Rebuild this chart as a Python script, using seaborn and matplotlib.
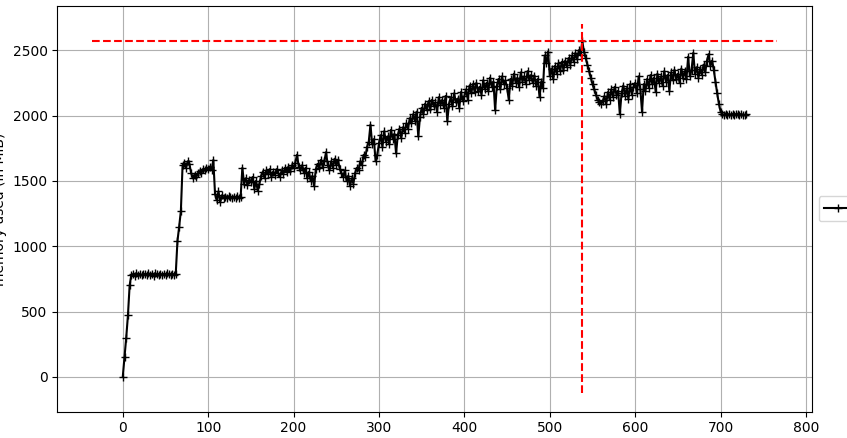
import numpy as np
import pandas as pd
import matplotlib
matplotlib.use("Agg")
import matplotlib.pyplot as plt
import seaborn as sns

# sampling interval of the memory profiler (seconds)
interval = 2.0

# memory usage in MiB, split by 100 s blocks
mem_000 = [3, 150, 300, 470, 700, 782,
           785, 776, 792, 780, 788, 777, 791, 784, 779, 793, 781, 789, 776,
           792, 785, 778, 791, 780, 788, 777, 793, 785, 780, 790, 783,
           790, 1040, 1150, 1270, 1620, 1640, 1600, 1650, 1630, 1560, 1520,
           1545, 1530, 1560, 1575, 1560, 1590, 1580, 1600]
mem_100 = [1590, 1610, 1585, 1660, 1400, 1350, 1420, 1340, 1390, 1370,
           1375, 1368, 1382, 1375, 1366, 1380, 1370, 1384, 1368,
           1380, 1600, 1480, 1520, 1470, 1510, 1490, 1530, 1440, 1500, 1425,
           1480, 1540, 1570, 1520, 1580, 1550, 1590, 1530, 1570, 1545,
           1590, 1560, 1530, 1580, 1555, 1600, 1565, 1610, 1575, 1620]
mem_200 = [1600, 1640, 1700, 1610, 1580, 1620, 1560, 1600, 1520, 1570,
           1500, 1540, 1460, 1590, 1630, 1600, 1660, 1610, 1650, 1720,
           1620, 1580, 1650, 1600, 1670, 1620, 1660, 1590, 1560, 1530,
           1580, 1500, 1540, 1460, 1520, 1480, 1560, 1600, 1580, 1650,
           1620, 1700, 1680, 1760, 1800, 1930, 1780, 1820, 1650, 1700]
mem_300 = [1790, 1850, 1760, 1880, 1800, 1840, 1780, 1890, 1820, 1860,
           1710, 1850, 1900, 1830, 1910, 1870, 1940, 1900, 1980, 1940,
           2010, 1960, 2030, 1840, 1990, 2060, 2010, 2090, 2040, 2110,
           2050, 2120, 2070, 2100, 2030, 2140, 2080, 2120, 2060, 2150,
           1960, 2090, 2140, 2070, 2170, 2100, 2130, 2060, 2180, 2110]
mem_400 = [2150, 2200, 2120, 2230, 2170, 2240, 2180, 2250, 2190, 2220,
           2160, 2270, 2200, 2250, 2190, 2290, 2220, 2260, 2040, 2230,
           2280, 2200, 2300, 2240, 2270, 2210, 2120, 2280, 2230, 2320,
           2250, 2290, 2220, 2330, 2260, 2300, 2240, 2340, 2270, 2310,
           2250, 2300, 2230, 2280, 2140, 2260, 2210, 2460, 2400, 2490]
mem_500 = [2300, 2360, 2280, 2380, 2320, 2400, 2340, 2410, 2350, 2420,
           2370, 2440, 2390, 2460, 2410, 2480, 2430, 2500, 2460, 2569,
           2490, 2440, 2390, 2340, 2290, 2240, 2200, 2160, 2120, 2100,
           2090, 2110, 2150, 2090, 2180, 2120, 2200, 2140, 2220, 2160,
           2190, 2010, 2170, 2230, 2150, 2210, 2130, 2240, 2160, 2220]
mem_600 = [2250, 2170, 2300, 2200, 2030, 2240, 2190, 2280, 2210, 2310,
           2240, 2290, 2180, 2320, 2250, 2300, 2230, 2340, 2260, 2310,
           2190, 2330, 2270, 2350, 2280, 2320, 2250, 2360, 2290, 2340,
           2280, 2450, 2300, 2350, 2480, 2320, 2370, 2290, 2360, 2310,
           2390, 2330, 2420, 2470, 2380, 2420, 2350, 2260, 2170, 2090]
mem_700 = [2030, 2010, 2004, 2014, 2005, 2012, 2006, 2014, 2004, 2012,
           2015, 2005, 2012, 2006, 2004, 2010]

mem = np.array(mem_000 + mem_100 + mem_200 + mem_300 + mem_400
               + mem_500 + mem_600 + mem_700, dtype=float)
t = np.arange(len(mem)) * interval
df = pd.DataFrame({"time": t, "mem": mem})

fig = plt.figure(figsize=(8.47, 4.38), dpi=100)
ax = fig.add_axes([0.0677, 0.060, 0.9583 - 0.0677, 0.9863 - 0.060])

sns.lineplot(data=df, x="time", y="mem", ax=ax, estimator=None, sort=False,
             color="k", marker="+", markersize=6, markeredgecolor="k",
             markeredgewidth=1.0, linewidth=1.5, label="mprof profile")

# max memory markers, like mprof does
imax = int(np.argmax(mem))
bottom, top = ax.get_ylim()
ax.vlines(t[imax], bottom, top, colors="r", linestyles="--")
left, right = ax.get_xlim()
ax.hlines(mem[imax], left + 0.001, right - 0.001, colors="r", linestyles="--")
ax.autoscale_view()

ax.set_xlabel("time (in seconds)")
ax.set_ylabel("memory used (in MiB)")
ax.grid(True)
ax.legend(loc="center left", bbox_to_anchor=(1, 0.5))

fig.savefig("out.png", dpi=100)
